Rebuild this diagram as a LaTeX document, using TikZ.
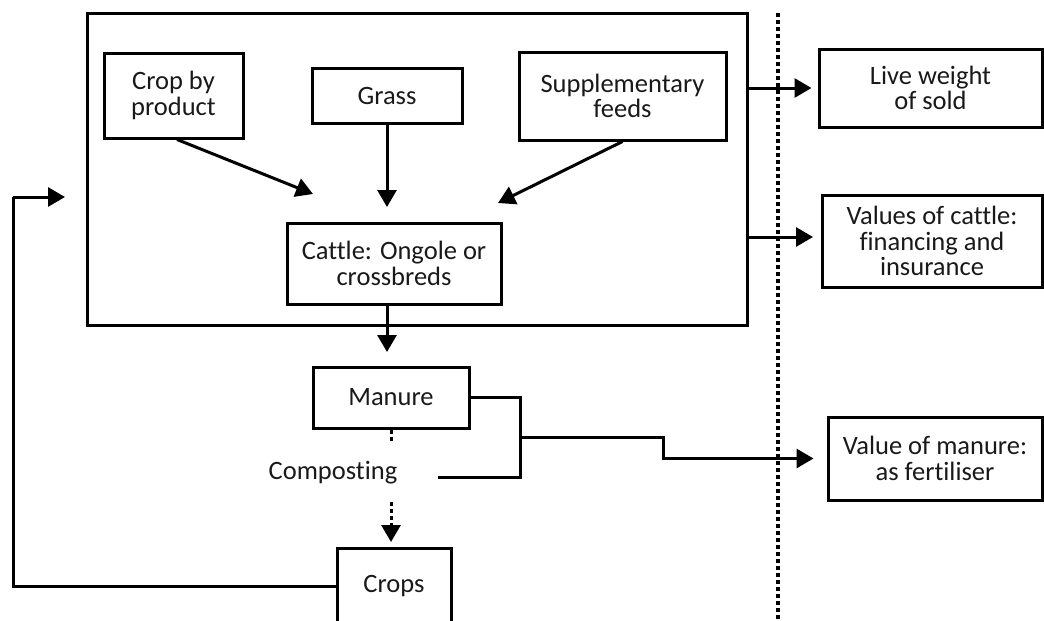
\documentclass[tikz,border=0pt]{standalone}
\usepackage{fontspec}
\setmainfont{Carlito}[Ligatures=NoCommon]
\usetikzlibrary{arrows.meta,calc}

\tikzset{
  box/.style={draw, line width=3pt, inner sep=0pt, align=center, minimum width=#1},
  lbl/.style={font=\fontsize{26.5}{25.5}\selectfont, text=black!90},
  link/.style={line width=3pt},
  arr/.style={link, -{Triangle[length=17pt,width=19pt]}},
  dotline/.style={line width=3.2pt, dash pattern=on 4pt off 3pt},
}

\begin{document}
\begin{tikzpicture}[x=1pt,y=-1pt]
  \useasboundingbox (0,0) rectangle (1044,621);
  \clip (0,0) rectangle (1044,621);

  % farm system boundary
  \node[box=660pt, minimum height=312pt] (farm) at (417,169) {};

  % feed sources and herd
  \node[box=139pt, minimum height=85pt, lbl] (crop) at (173.5,95.5) {Crop by\\product};
  \node[box=150pt, minimum height=55pt, lbl] (grass) at (387,95.5) {Grass};
  \node[box=207pt, minimum height=88pt, lbl] (supp) at (622.5,96) {Supplementary\\feeds};
  \node[box=214pt, minimum height=81pt, lbl] (cattle) at (394,263.5) {Cattle: Ongole or\\crossbreds};

  % manure chain
  \node[box=156pt, minimum height=61pt, lbl] (manure) at (391,397.5) {Manure};
  \node[lbl, inner sep=0pt] (compost) at (333,473) {Composting};
  \node[box=114pt, minimum height=76pt, lbl] (crops) at (394,586) {Crops};

  % outputs beyond the farm gate
  \node[box=223pt, minimum height=78pt, lbl] (live) at (930.5,88) {Live weight\\of sold};
  \node[box=220pt, minimum height=92pt, lbl] (values) at (932,241) {Values of cattle:\\financing and\\insurance};
  \node[box=214pt, minimum height=83pt, lbl] (valman) at (935,458.5) {Value of manure:\\as fertiliser};

  % farm gate
  \coordinate (gatetop) at (778,13);
  \coordinate (gatebot) at (778,621);
  \draw[dotline] (gatetop) -- (gatebot);

  % feeds into cattle
  \coordinate (cropend) at (313,194);
  \coordinate (grassend) at (387,207);
  \coordinate (suppend) at (498,203);
  \draw[arr] ($(crop.south)+(3.5,0)$) -- (cropend);
  \draw[arr] (grass.south) -- (grassend);
  \draw[arr] (supp.south) -- (suppend);

  % cattle to manure
  \coordinate (cattleout) at (387,304);
  \coordinate (manureend) at (387,352);
  \draw[arr] (cattleout) -- (manureend);

  % manure, composting, crops
  \coordinate (mdot) at (391,442);
  \draw[dotline, line width=3pt] (manure.south) -- (mdot);
  \coordinate (cstart) at (391,502);
  \coordinate (cend) at (391,542);
  \draw[dotline, line width=3pt, -{Triangle[length=17pt,width=19pt]}] (cstart) -- (cend);

  % manure sold as fertiliser
  \coordinate (brk) at (520,437);
  \coordinate (cmpend) at (438,477);
  \draw[link] (manure.east |- 0,397) -| (brk) |- (cmpend);
  \coordinate (stepx) at (663,437);
  \draw[arr, shorten >=13pt] (brk) -- (stepx) |- (valman.west);

  % outputs of the herd
  \draw[arr, shorten >=6pt] (farm.east |- live.west) -- (live.west);
  \coordinate (valout) at (747,237);
  \coordinate (valend) at (813,237);
  \draw[arr] (valout) -- (valend);

  % crops returned to the farm
  \coordinate (loopbot) at (13,586);
  \coordinate (looptop) at (13,197);
  \coordinate (loopend) at (65,197);
  \draw[link] (crops.west) -- (loopbot) -- (looptop);
  \draw[arr] (looptop) -- (loopend);
\end{tikzpicture}
\end{document}
